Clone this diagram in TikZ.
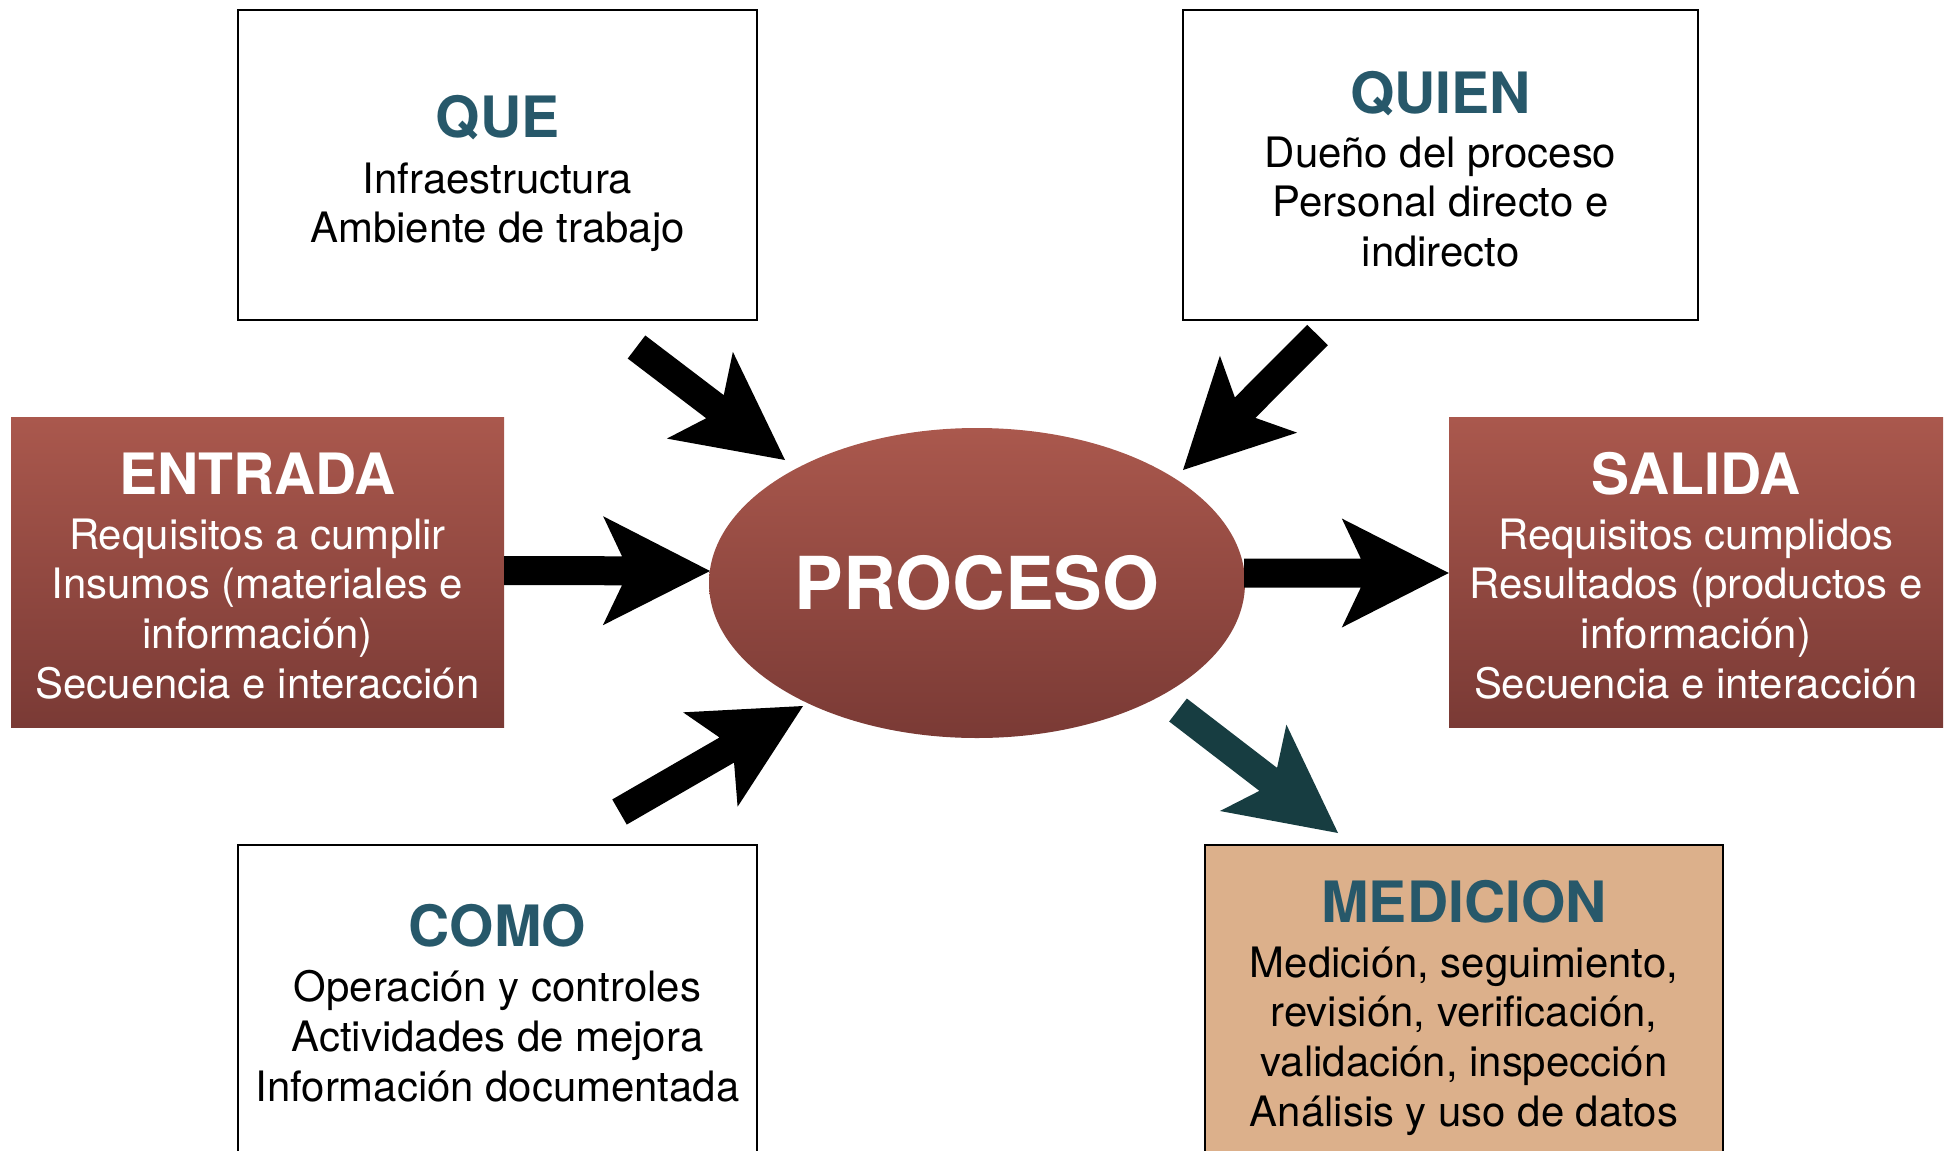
\documentclass[tikz,border=0pt]{standalone}
\usepackage{fontspec}
\setmainfont{TeX Gyre Heros}
\usetikzlibrary{shapes.geometric,calc}
\definecolor{headteal}{HTML}{27586A}
\definecolor{redtop}{HTML}{AA584D}
\definecolor{redbot}{HTML}{7A3A35}
\definecolor{medfill}{HTML}{DCB08B}
\definecolor{arrowteal}{HTML}{173D41}
\newcommand\headsize{\fontsize{57}{60}\selectfont\bfseries}
\newcommand\bodysize{\fontsize{41.9}{49.7}\selectfont}
\newcommand\procsize{\fontsize{73}{80}\selectfont\bfseries}
\newcommand\blockarrow[3]{%
  \pgfpointdiff{\pgfpointanchor{#1}{center}}{\pgfpointanchor{#2}{center}}%
  \pgfgetlastxy{\baX}{\baY}%
  \pgfmathsetmacro\baL{veclen(\baX,\baY)}%
  \pgfmathsetmacro\baA{atan2(\baY,\baX)}%
  \fill[#3, shift={(#1)}, rotate=\baA]
    (0,-14.5) -- (\baL-88,-14.5) -- (\baL-107,-54.5) -- (\baL,0)
    -- (\baL-107,54.5) -- (\baL-88,14.5) -- (0,14.5) -- cycle;
}
\begin{document}
\begin{tikzpicture}[x=1pt,y=-1pt,
  wbox/.style={draw=black, line width=2pt, fill=white, inner sep=0pt},
  rbox/.style={draw=none, top color=redtop, bottom color=redbot, inner sep=0pt},
  mbox/.style={draw=black, line width=2pt, fill=medfill, inner sep=0pt},
  head/.style={anchor=base, inner sep=0pt, font=\headsize},
  body/.style={anchor=base, inner sep=0pt, font=\bodysize},
]
\useasboundingbox (0,0) rectangle (1949,1151);

% boxes
\node[wbox, minimum width=519, minimum height=310] (que) at (497.5,165) {};
\node[wbox, minimum width=515, minimum height=310] (quien) at (1440.5,165) {};
\node[rbox, minimum width=493, minimum height=310] (entrada) at (257.5,572) {};
\node[rbox, minimum width=494, minimum height=310] (salida) at (1696,572) {};
\node[wbox, minimum width=519, minimum height=330] (como) at (497.5,1010) {};
\node[mbox, minimum width=518, minimum height=330] (medicion) at (1464,1010) {};
\node[ellipse, minimum width=536, minimum height=310, inner sep=0pt,
      top color=redtop, bottom color=redbot, text=white, font=\procsize] (proceso) at (977,583) {PROCESO};

% texts
\node[head, text=headteal] (queh) at (497.5,137.5) {QUE};
\node[body] (queb) at (497.5,193) {\begin{tabular}[t]{@{}c@{}}Infraestructura\\Ambiente de trabajo\end{tabular}};

\node[head, text=headteal] (quienh) at (1440.5,113.5) {QUIEN};
\node[body] (quienb) at (1440.5,167) {\begin{tabular}[t]{@{}c@{}}Dueño del proceso\\Personal directo e\\indirecto\end{tabular}};

\node[head, text=white] (entradah) at (257.5,494) {ENTRADA};
\node[body, text=white] (entradab) at (257.5,549) {\begin{tabular}[t]{@{}c@{}}Requisitos a cumplir\\Insumos (materiales e\\información)\\Secuencia e interacción\end{tabular}};

\node[head, text=white] (salidah) at (1696,494) {SALIDA};
\node[body, text=white] (salidab) at (1696,549) {\begin{tabular}[t]{@{}c@{}}Requisitos cumplidos\\Resultados (productos e\\información)\\Secuencia e interacción\end{tabular}};

\node[head, text=headteal] (comoh) at (497.5,946.7) {COMO};
\node[body] (comob) at (497.5,1001.7) {\begin{tabular}[t]{@{}c@{}}Operación y controles\\Actividades de mejora\\Información documentada\end{tabular}};

\node[head, text=headteal] (medicionh) at (1464,922.5) {MEDICION};
\node[body] (medicionb) at (1464,977) {\begin{tabular}[t]{@{}c@{}}Medición, seguimiento,\\revisión, verificación,\\validación, inspección\\Análisis y uso de datos\end{tabular}};

% arrows
\coordinate (tls) at (636.5,347);  \coordinate (tle) at (785,460);
\coordinate (trs) at (1317.5,335); \coordinate (tre) at (1183,470);
\coordinate (bls) at (619.5,812);  \coordinate (ble) at (803,706);
\coordinate (brs) at (1178,710);   \coordinate (bre) at (1338,833);
\coordinate (ls) at (entrada.east |- 0,570.5); \coordinate (le) at (710,571);
\coordinate (rs) at (1244,573);    \coordinate (re) at (salida.west |- 0,573);

\blockarrow{tls}{tle}{black}
\blockarrow{trs}{tre}{black}
\blockarrow{bls}{ble}{black}
\blockarrow{ls}{le}{black}
\blockarrow{rs}{re}{black}
\blockarrow{brs}{bre}{arrowteal}
\end{tikzpicture}
\end{document}
